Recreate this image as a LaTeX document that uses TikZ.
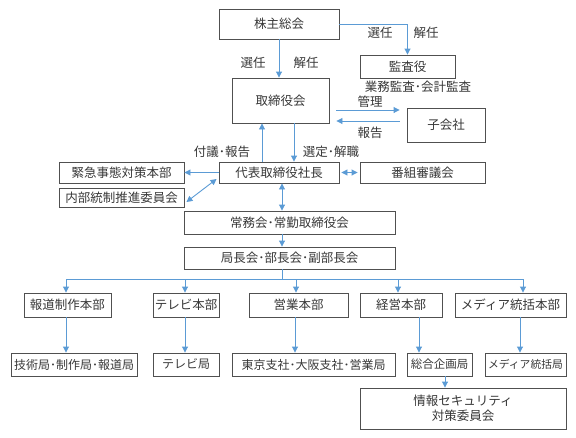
\documentclass[tikz,border=0pt]{standalone}
\usepackage{fontspec}
\setmainfont{Noto Sans CJK JP}
\usetikzlibrary{arrows.meta}

\definecolor{linie}{RGB}{91,155,213}
\definecolor{rand}{RGB}{80,80,80}
\definecolor{schrift}{RGB}{55,55,55}

\tikzset{
	box/.style={draw=rand, line width=0.9pt, text=schrift, inner sep=0pt, font=\fontsize{12.5}{15}\selectfont},
	arr/.style={draw=linie, line width=0.9pt, ->},
	darr/.style={draw=linie, line width=0.9pt, <->},
	lbl/.style={text=schrift, inner sep=0pt, font=\fontsize{12.5}{15}\selectfont}
}

\begin{document}
\begin{tikzpicture}[x=1pt, y=-1pt, >={Triangle[width=6pt,length=6pt]}]
\useasboundingbox (0,0) rectangle (576,437);

\node [box, minimum width=120pt, minimum height=30pt] (kabu) at (279,24) {株主総会};
\node [box, minimum width=97pt, minimum height=45pt] (tori) at (280.5,100.5) {取締役会};
\node [box, minimum width=95pt, minimum height=23pt] (kansa) at (407.5,66.5) {監査役};
\node [box, minimum width=78pt, minimum height=34pt] (kogai) at (446,125) {子会社};
\node [box, minimum width=120pt, minimum height=21pt] (daihyo) at (279,172.5) {代表取締役社長};
\node [box, minimum width=125pt, minimum height=21pt] (bangumi) at (422.5,172.5) {番組審議会};
\node [box, minimum width=125pt, minimum height=21pt] (kinkyu) at (121.5,172.5) {緊急事態対策本部};
\node [box, minimum width=125pt, minimum height=19pt] (naibu) at (121.5,197.5) {内部統制推進委員会};
\node [box, minimum width=211pt, minimum height=23pt] (jomu) at (289.5,222.5) {常務会･常勤取締役会};
\node [box, minimum width=211pt, minimum height=22pt] (kyoku) at (289.5,258) {局長会･部長会･副部長会};

\foreach \n/\x/\w/\t in {hodo/67.5/87/報道制作本部, tv/186/66/テレビ本部, eigyo/298.5/99/営業本部, keiei/401/82/経営本部, media/510.5/111/メディア統括本部}{
	\node [box, minimum width=\w pt, minimum height=24pt] (\n) at (\x,305) {\t};
	}
\foreach \n/\x/\w/\s/\t in {gijutsu/74/126/12/技術局･制作局･報道局, tvkyoku/186/66/12/テレビ局, tokyo/313.5/163/12/東京支社･大阪支社･営業局, sogo/439.5/65/11.5/総合企画局, mkyoku/525.5/81/10.8/メディア統括局}{
	\node [box, minimum width=\w pt, minimum height=23pt, font=\fontsize{\s}{14}\selectfont] (\n) at (\x,364.5) {\t};
	}
\node [box, minimum width=206pt, minimum height=41pt, align=center] (joho) at (463,408.5) {情報セキュリティ\\対策委員会};

% labels
\node [lbl] (l1) at (253,63) {選任};
\node [lbl] (l2) at (306,63) {解任};
\node [lbl] (l3) at (380,33) {選任};
\node [lbl] (l4) at (426,33) {解任};
\node [lbl] (l5) at (418,87) {業務監査･会計監査};
\node [lbl] (l6) at (370,102) {管理};
\node [lbl] (l7) at (370,133) {報告};
\node [lbl] (l8) at (222,152) {付議･報告};
\node [lbl] (l9) at (331,152) {選定･解職};

\draw [arr] (kabu) -- (kabu |- tori.north);
\draw [arr] (kabu.east) -| (kansa.north);
\draw [arr, shorten <=7pt, shorten >=7pt] (tori.east |- 0,110) -- (kogai.west |- 0,110);
\draw [arr, shorten <=7pt, shorten >=7pt] (kogai.west |- 0,121) -- (tori.east |- 0,121);
\draw [arr] (294,0 |- tori.south) -- (294,0 |- daihyo.north);
\draw [arr] (262,0 |- daihyo.north) -- (262,0 |- tori.south);
\draw [darr, shorten <=2pt, shorten >=2pt] (daihyo.east) -- (bangumi.west);
\draw [arr] (daihyo.west) -- (kinkyu.east);
\draw [darr] ([shift={(-2,6.5)}]daihyo.west) -- ([shift={(2,4.5)}]naibu.east);
\draw [darr] (282,0 |- daihyo.south) -- (282,0 |- jomu.north);
\draw [arr] (282,0 |- jomu.south) -- (282,0 |- kyoku.north);

\coordinate (bus) at (282,279);
\draw [draw=linie, line width=0.9pt] (282,0 |- kyoku.south) -- (bus);
\draw [draw=linie, line width=0.9pt] (66,279) -- (523,279);
\foreach \n/\x in {hodo/66, tv/185, eigyo/296, keiei/398, media/523}{
	\draw [arr] (\x,279) -- (\x,0 |- \n.north);
	}
\foreach \a/\b/\x in {hodo/gijutsu/66, tv/tvkyoku/185, eigyo/tokyo/295, keiei/sogo/419, media/mkyoku/520}{
	\draw [arr] (\x,0 |- \a.south) -- (\x,0 |- \b.north);
	}
\draw [arr] (445,0 |- sogo.south) -- (445,0 |- joho.north);

\end{tikzpicture}
\end{document}
